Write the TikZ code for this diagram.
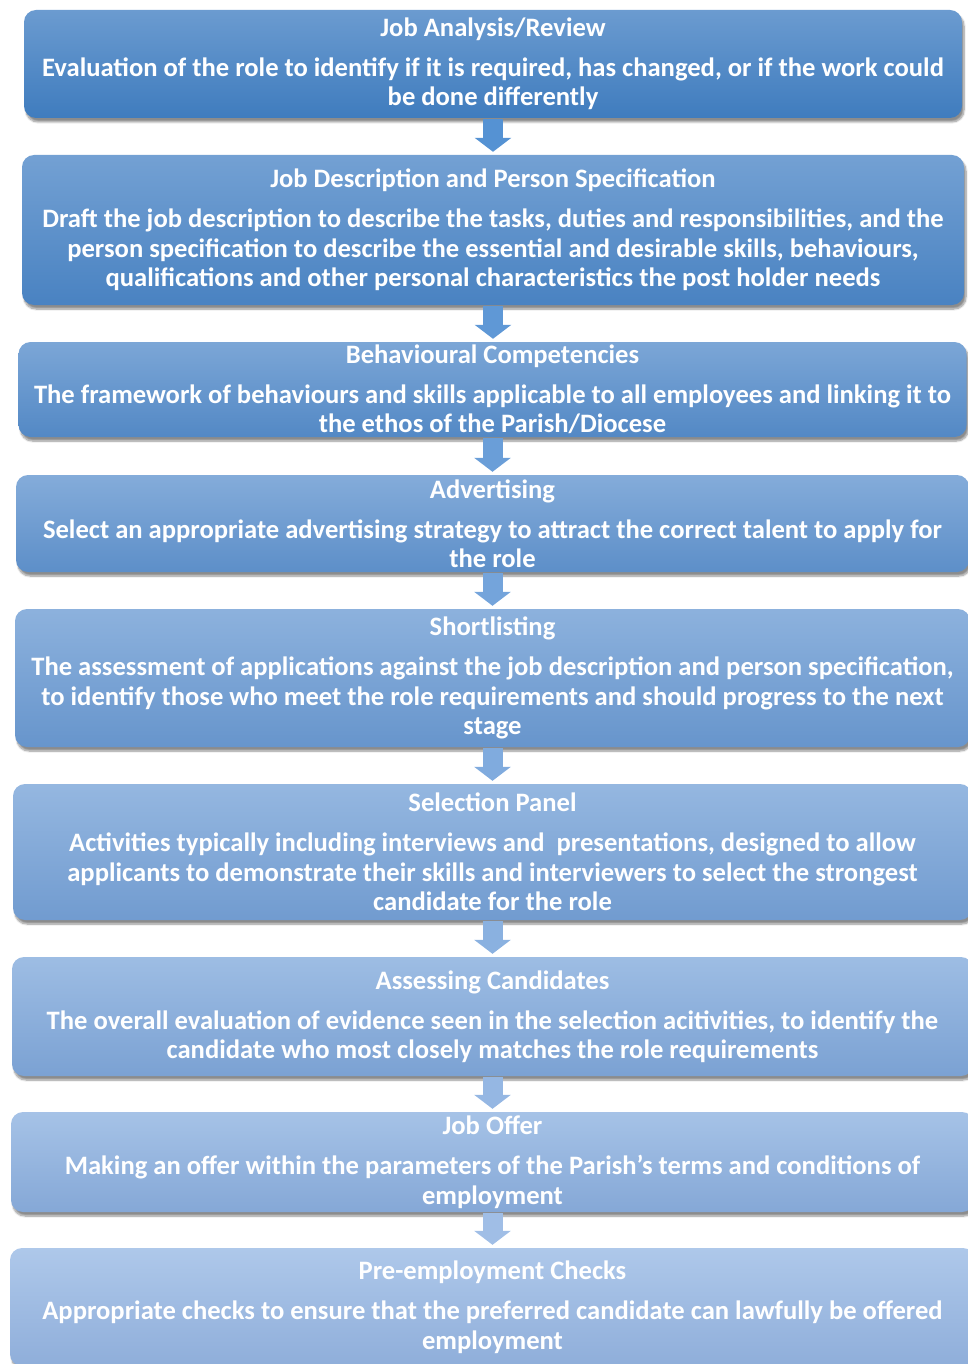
\documentclass[tikz,border=0pt]{standalone}
\usepackage{fontspec}
\setmainfont{Carlito}
\usetikzlibrary{arrows.meta,shadows,shadows.blur,calc}
\definecolor{Tone}{RGB}{107,155,208}
\definecolor{Tnine}{RGB}{174,200,234}
\definecolor{Bone}{RGB}{63,124,190}
\definecolor{Bnine}{RGB}{143,174,218}
\definecolor{Aone}{RGB}{85,146,211}
\definecolor{Anine}{RGB}{160,190,230}
\tikzset{
  stage/.style={rectangle, rounded corners=12pt, inner sep=0pt, align=center,
    text=white, font=\bfseries\fontsize{26.6}{29.5}\selectfont,
    top color=Tnine!#1!Tone, bottom color=Bnine!#1!Bone, draw=none,
    blur shadow={shadow xshift=2pt, shadow yshift=-4pt, shadow blur steps=8, shadow opacity=45}},
  flow/.style={line width=20pt, draw=Anine!#1!Aone,
    -{Triangle[width=36pt,length=14pt]}, shorten <=1pt, shorten >=3pt},
}
\newcommand{\ttl}[1]{#1\\[10.5pt]}
\begin{document}
\begin{tikzpicture}[x=1pt,y=-1pt]
\useasboundingbox (0,0) rectangle (968,1364);
\node[stage=0, minimum width=938pt, minimum height=108pt] (b1) at (493,64)
 {\ttl{Job Analysis/Review}Evaluation of the role to identify if it is required, has changed, or if the work could\\be done differently};
\node[stage=12.5, minimum width=942pt, minimum height=150pt] (b2) at (493,230)
 {\ttl{Job Description and Person Specification}Draft the job description to describe the tasks, duties and responsibilities, and the\\person specification to describe the essential and desirable skills, behaviours,\\qualifications and other personal characteristics the post holder needs};
\node[stage=25, minimum width=948pt, minimum height=95pt] (b3) at (492.5,389.5)
 {\ttl{Behavioural Competencies}The framework of behaviours and skills applicable to all employees and linking it to\\the ethos of the Parish/Diocese};
\node[stage=37.5, minimum width=953pt, minimum height=97pt] (b4) at (492.5,523.5)
 {\ttl{Advertising}Select an appropriate advertising strategy to attract the correct talent to apply for\\the role};
\node[stage=50, minimum width=955pt, minimum height=138pt] (b5) at (492.5,678)
 {\ttl{Shortlisting}The assessment of applications against the job description and person specification,\\to identify those who meet the role requirements and should progress to the next\\stage};
\node[stage=62.5, minimum width=959pt, minimum height=136pt] (b6) at (492.5,852)
 {\ttl{Selection Panel}Activities typically including interviews and\ \ presentations, designed to allow\\applicants to demonstrate their skills and interviewers to select the strongest\\candidate for the role};
\node[stage=75, minimum width=961pt, minimum height=119pt] (b7) at (492.5,1016.5)
 {\ttl{Assessing Candidates}The overall evaluation of evidence seen in the selection acitivities, to identify the\\candidate who most closely matches the role requirements};
\node[stage=87.5, minimum width=963pt, minimum height=100pt] (b8) at (492.5,1162)
 {\ttl{Job Offer}Making an offer within the parameters of the Parish's terms and conditions of\\employment};
\node[stage=100, minimum width=965pt, minimum height=118pt] (b9) at (492.5,1307)
 {\ttl{Pre-employment Checks}Appropriate checks to ensure that the preferred candidate can lawfully be offered\\employment};
\draw[flow=0] (b1.south) -- (b1.south |- b2.north);
\draw[flow=14] (b2.south) -- (b2.south |- b3.north);
\draw[flow=28] (b3.south) -- (b3.south |- b4.north);
\draw[flow=42] (b4.south) -- (b4.south |- b5.north);
\draw[flow=57] (b5.south) -- (b5.south |- b6.north);
\draw[flow=71] (b6.south) -- (b6.south |- b7.north);
\draw[flow=85] (b7.south) -- (b7.south |- b8.north);
\draw[flow=100] (b8.south) -- (b8.south |- b9.north);
\end{tikzpicture}
\end{document}
